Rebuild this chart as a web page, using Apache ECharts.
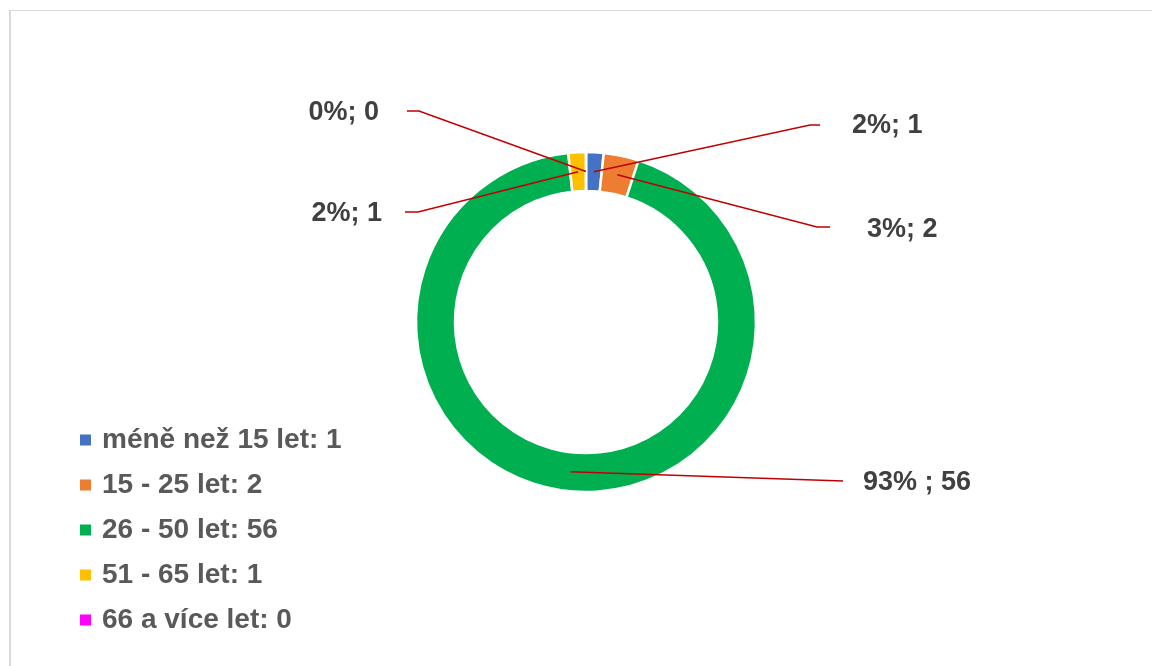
<!DOCTYPE html>
<html>
<head>
<meta charset="utf-8">
<script src="https://cdn.jsdelivr.net/npm/echarts@6/dist/echarts.min.js"></script>
<style>
  html, body { margin: 0; padding: 0; background: #fff; }
  #chart { width: 1152px; height: 666px; }
  #frame {
    position: absolute; left: 9px; top: 10px; width: 1200px; height: 700px;
    border-left: 2px solid #d9d9d9; border-top: 1px solid #d9d9d9;
    pointer-events: none;
  }
</style>
</head>
<body>
<div id="chart"></div>
<div id="frame"></div>
<script>
// věkové skupiny
var categories = ['méně než 15 let', '15 - 25 let', '26 - 50 let', '51 - 65 let', '66 a více let'];
var counts = [1, 2, 56, 1, 0];
// popisky dat (procento; počet)
var dataLabels = ['2%; 1', '3%; 2', '93% ; 56', '2%; 1', '0%; 0'];
var colors = ['#4472C4', '#ED7D31', '#00B050', '#FFC000', '#FF00FF'];

// rozložení prstence
var cx = 586, cy = 322, rIn = 131, rOut = 170;
var rMid = (rIn + rOut) / 2;
// kam se posunou popisky: [x textu, y textu, zarovnání, lom čáry x, lom y, konec čáry x]
var labelPlace = [
    [852, 126, 'left', 810, 125, 820],
    [867, 230, 'left', 817, 227, 830],
    [863, 483, 'left', 843, 481, 843],
    [382, 214, 'right', 418, 212, 405],
    [379, 113, 'right', 419, 111, 407]
];

var total = counts.reduce(function (a, b) { return a + b; }, 0);
//střední úhel výseče, od vrcholu po směru hodinek
function midAngle(idx) {
    var before = 0;
    for (var i = 0; i < idx; i++) before += counts[i];
    return (before + counts[idx] / 2) / total * Math.PI * 2;
}

var pieData = categories.map(function (c, i) {
    return { name: c, value: counts[i] };
});

var chart = echarts.init(document.getElementById('chart'));
chart.setOption({
    animation: false,
    color: colors,
    legend: {
        data: categories,
        orient: 'vertical',
        left: 78,
        top: 425,
        padding: 0,
        icon: 'rect',
        itemWidth: 13,
        itemHeight: 13,
        itemGap: 15,
        selectedMode: false,
        formatter: function (name) {
            return name + ': ' + counts[categories.indexOf(name)];
        },
        textStyle: {
            fontFamily: 'Liberation Sans',
            fontWeight: 'bold',
            fontSize: 28,
            lineHeight: 30,
            color: '#595959',
            padding: [0, 0, 0, 5]
        }
    },
    series: [{
        //prstenec
        type: 'pie',
        center: [cx, cy],
        radius: [rIn, rOut],
        startAngle: 90,
        clockwise: true,
        emphasis: { disabled: true },
        itemStyle: { borderColor: '#fff', borderWidth: 2.5 },
        label: { show: false },
        labelLine: { show: false },
        data: pieData
    }, {
        //průhledná kopie jen kvůli popiskům, aby čáry ležely nad prstencem
        type: 'pie',
        z: 5,
        silent: true,
        center: [cx, cy],
        radius: [rIn, rOut],
        startAngle: 90,
        clockwise: true,
        avoidLabelOverlap: false,
        emphasis: { disabled: true },
        itemStyle: { color: 'rgba(0,0,0,0)', borderWidth: 0 },
        label: {
            show: true,
            position: 'outside',
            fontFamily: 'Liberation Sans',
            fontWeight: 'bold',
            fontSize: 27,
            color: '#404040',
            formatter: function (p) { return dataLabels[p.dataIndex]; }
        },
        labelLine: {
            show: true,
            lineStyle: { color: '#C00000', width: 1.5 }
        },
        labelLayout: function (p) {
            var pl = labelPlace[p.dataIndex];
            var a = midAngle(p.dataIndex);
            var sx = cx + rMid * Math.sin(a);
            var sy = cy - rMid * Math.cos(a);
            return {
                x: pl[0],
                y: pl[1],
                align: pl[2],
                verticalAlign: 'middle',
                labelLinePoints: [[sx, sy], [pl[3], pl[4]], [pl[5], pl[4]]]
            };
        },
        data: pieData
    }]
});
</script>
</body>
</html>
